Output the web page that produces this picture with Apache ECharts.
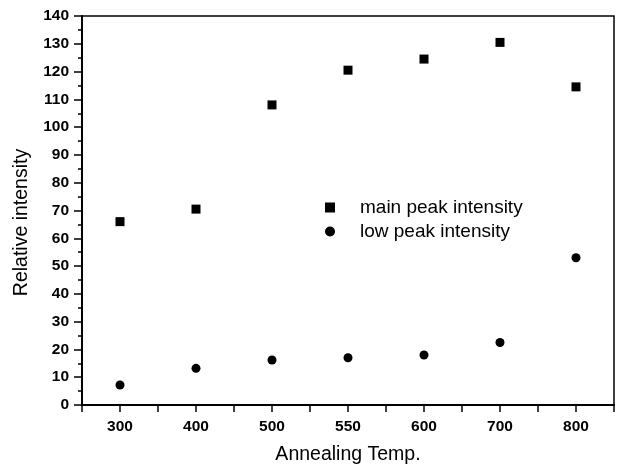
<!DOCTYPE html>
<html><head><meta charset="utf-8">
<script src="https://cdn.jsdelivr.net/npm/echarts@6/dist/echarts.min.js"></script>
<style>html,body{margin:0;padding:0;background:#fff}#c{width:619px;height:466px}</style>
</head><body><div id="c"></div>
<script>
const categories = ['300','400','500','550','600','700','800'];
const mainPeak = [66, 70.5, 108, 120.5, 124.5, 130.5, 114.5];
const lowPeak = [7.2, 13.2, 16.2, 17, 18, 22.5, 53];
const yTicks = {min: 0, max: 140, interval: 10};

const font = 'Liberation Sans, Arial, sans-serif';
const chart = echarts.init(document.getElementById('c'), null, {renderer: 'canvas'});
chart.setOption({
  animation: false,
  backgroundColor: '#fff',
  grid: {left: 82, right: 5, top: 16, bottom: 61, containLabel: false, outerBoundsMode: 'none',
         show: true, borderColor: '#000', borderWidth: 1.5, backgroundColor: 'transparent'},
  xAxis: {
    type: 'value', min: -0.5, max: categories.length - 0.5, interval: 0.5,
    name: 'Annealing Temp.', nameLocation: 'middle', nameGap: 40,
    nameTextStyle: {fontFamily: font, fontSize: 19.5, color: '#000'},
    axisLine: {show: true, onZero: false, lineStyle: {color: '#000', width: 2}},
    axisTick: {show: true, inside: false, length: 7, lineStyle: {color: '#000', width: 1.5}},
    axisLabel: {
      margin: 14, fontFamily: font, fontSize: 15.5, fontWeight: 'bold', color: '#000',
      showMinLabel: true, showMaxLabel: true,
      formatter: v => (Math.abs(v - Math.round(v)) < 1e-6 && categories[Math.round(v)] !== undefined) ? categories[Math.round(v)] : ''
    },
    splitLine: {show: false}
  },
  yAxis: {
    type: 'value', min: yTicks.min, max: yTicks.max, interval: yTicks.interval,
    name: 'Relative intensity', nameLocation: 'middle', nameGap: 50,
    nameTextStyle: {fontFamily: font, fontSize: 19.5, color: '#000', padding: [0, 24, 0, 0]},
    axisLine: {show: true, onZero: false, lineStyle: {color: '#000', width: 2}},
    axisTick: {show: true, inside: false, length: 8, lineStyle: {color: '#000', width: 1.5}},
    minorTick: {show: true, splitNumber: 2, length: 4, lineStyle: {color: '#000', width: 1.5}},
    axisLabel: {margin: 13, fontFamily: font, fontSize: 15.5, fontWeight: 'bold', color: '#000'},
    splitLine: {show: false}
  },
  legend: {
    show: true, orient: 'vertical', left: 320, top: 193,
    itemWidth: 10, itemHeight: 10, itemGap: 5,
    textStyle: {fontFamily: font, fontSize: 19, color: '#000', padding: [0, 0, 0, 20]},
    data: [{name: 'main peak intensity', icon: 'rect'}, {name: 'low peak intensity', icon: 'circle'}]
  },
  series: [
    {name: 'main peak intensity', type: 'scatter', symbol: 'rect', symbolSize: 9,
     itemStyle: {color: '#000', opacity: 1}, data: mainPeak.map((v, i) => [i, v])},
    {name: 'low peak intensity', type: 'scatter', symbol: 'circle', symbolSize: 9,
     itemStyle: {color: '#000', opacity: 1}, data: lowPeak.map((v, i) => [i, v])}
  ]
});
</script></body></html>
